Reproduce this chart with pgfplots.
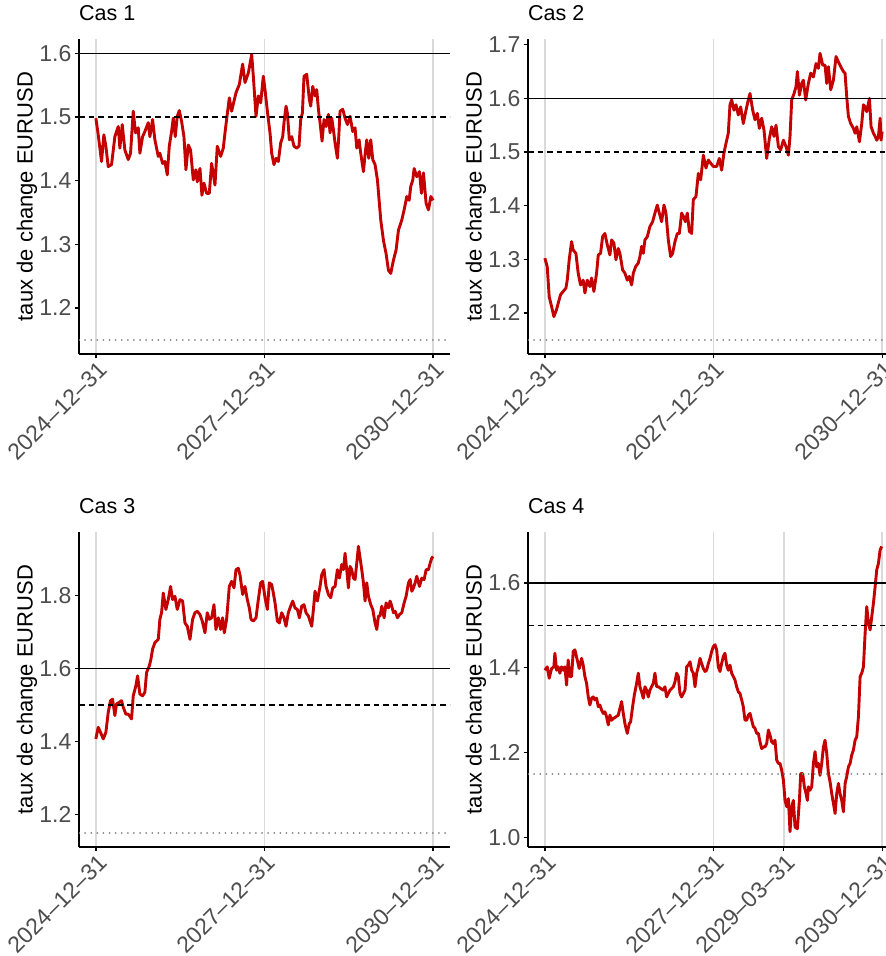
\documentclass[border=0pt]{standalone}
\usepackage{pgfplots}
\usepackage{pgfplotstable}
\pgfplotsset{compat=1.18}
\usepackage{fontspec}
\setmainfont{Liberation Sans}

\definecolor{serie}{HTML}{C40000}
\definecolor{grille}{HTML}{DADADA}
\definecolor{gristick}{HTML}{4D4D4D}
\definecolor{pointille}{HTML}{858585}

% x: years elapsed since 2024-12-31
\pgfplotstableread{
x y
0.000 1.498
0.042 1.472
0.101 1.430
0.142 1.472
0.178 1.454
0.220 1.422
0.279 1.425
0.338 1.469
0.398 1.485
0.427 1.451
0.469 1.488
0.516 1.448
0.576 1.433
0.617 1.443
0.665 1.509
0.706 1.475
0.754 1.483
0.783 1.443
0.831 1.469
0.872 1.477
0.932 1.491
0.961 1.469
1.009 1.496
1.050 1.464
1.110 1.438
1.139 1.443
1.187 1.427
1.228 1.430
1.270 1.409
1.306 1.454
1.347 1.477
1.377 1.498
1.412 1.469
1.448 1.501
1.484 1.510
1.525 1.493
1.567 1.469
1.602 1.417
1.644 1.456
1.685 1.448
1.733 1.401
1.780 1.417
1.804 1.398
1.852 1.419
1.887 1.377
1.923 1.396
1.970 1.380
2.018 1.380
2.059 1.427
2.119 1.393
2.160 1.454
2.220 1.438
2.267 1.451
2.297 1.475
2.326 1.496
2.374 1.530
2.415 1.509
2.493 1.538
2.552 1.551
2.611 1.583
2.653 1.554
2.712 1.569
2.772 1.598
2.801 1.564
2.849 1.501
2.890 1.533
2.932 1.522
2.979 1.564
3.009 1.543
3.051 1.509
3.098 1.475
3.128 1.443
3.169 1.425
3.205 1.435
3.246 1.430
3.288 1.459
3.324 1.469
3.347 1.491
3.383 1.517
3.407 1.506
3.442 1.464
3.484 1.469
3.525 1.454
3.573 1.451
3.614 1.454
3.644 1.496
3.674 1.506
3.703 1.564
3.751 1.567
3.798 1.527
3.822 1.517
3.858 1.548
3.899 1.533
3.929 1.543
3.959 1.512
3.988 1.491
4.024 1.462
4.059 1.496
4.095 1.485
4.137 1.504
4.166 1.475
4.196 1.498
4.226 1.480
4.255 1.459
4.297 1.435
4.321 1.469
4.344 1.509
4.392 1.512
4.433 1.498
4.475 1.488
4.522 1.501
4.570 1.477
4.611 1.483
4.641 1.451
4.683 1.464
4.712 1.443
4.760 1.414
4.789 1.441
4.819 1.464
4.855 1.435
4.890 1.464
4.926 1.433
4.967 1.425
5.009 1.401
5.068 1.338
5.116 1.306
5.163 1.285
5.205 1.259
5.246 1.254
5.294 1.275
5.341 1.291
5.383 1.322
5.442 1.338
5.484 1.354
5.531 1.375
5.573 1.369
5.602 1.391
5.638 1.401
5.662 1.419
5.709 1.406
5.757 1.414
5.792 1.380
5.828 1.412
5.875 1.364
5.917 1.354
5.959 1.375
6.000 1.369
}\casun

\pgfplotstableread{
x y
0.000 1.302
0.042 1.286
0.077 1.230
0.119 1.212
0.160 1.193
0.208 1.206
0.237 1.218
0.279 1.234
0.326 1.240
0.374 1.246
0.398 1.261
0.433 1.299
0.475 1.333
0.504 1.317
0.552 1.311
0.593 1.274
0.635 1.252
0.682 1.261
0.712 1.237
0.754 1.261
0.801 1.249
0.831 1.265
0.872 1.240
0.920 1.274
0.950 1.308
0.991 1.311
1.027 1.342
1.068 1.348
1.110 1.327
1.157 1.308
1.187 1.336
1.228 1.330
1.264 1.299
1.306 1.320
1.335 1.311
1.383 1.280
1.424 1.274
1.466 1.261
1.501 1.268
1.543 1.252
1.573 1.274
1.614 1.286
1.662 1.293
1.691 1.305
1.721 1.324
1.751 1.311
1.780 1.336
1.822 1.342
1.869 1.361
1.917 1.370
1.958 1.386
2.000 1.401
2.036 1.386
2.077 1.370
2.119 1.401
2.154 1.386
2.196 1.336
2.237 1.305
2.273 1.311
2.315 1.333
2.356 1.348
2.392 1.348
2.433 1.386
2.463 1.380
2.499 1.370
2.534 1.386
2.570 1.352
2.611 1.348
2.641 1.411
2.688 1.417
2.730 1.460
2.772 1.448
2.819 1.494
2.866 1.470
2.908 1.485
2.950 1.479
2.997 1.473
3.056 1.473
3.103 1.488
3.145 1.466
3.186 1.498
3.222 1.516
3.263 1.535
3.293 1.588
3.323 1.597
3.364 1.578
3.400 1.588
3.441 1.569
3.483 1.584
3.530 1.553
3.578 1.578
3.619 1.597
3.649 1.609
3.697 1.578
3.738 1.560
3.780 1.572
3.815 1.544
3.857 1.563
3.898 1.541
3.946 1.488
3.993 1.525
4.035 1.547
4.076 1.529
4.112 1.550
4.154 1.510
4.195 1.504
4.243 1.522
4.290 1.510
4.332 1.494
4.361 1.529
4.391 1.597
4.433 1.609
4.468 1.622
4.492 1.650
4.528 1.606
4.569 1.628
4.599 1.634
4.640 1.597
4.688 1.628
4.729 1.647
4.777 1.640
4.824 1.665
4.866 1.656
4.895 1.684
4.943 1.662
4.984 1.662
5.014 1.628
5.044 1.659
5.085 1.616
5.133 1.634
5.180 1.678
5.222 1.668
5.263 1.659
5.311 1.650
5.340 1.647
5.370 1.603
5.400 1.566
5.441 1.553
5.489 1.544
5.519 1.535
5.548 1.547
5.596 1.519
5.637 1.553
5.667 1.588
5.697 1.584
5.726 1.575
5.774 1.600
5.803 1.547
5.845 1.535
5.875 1.529
5.905 1.522
5.934 1.529
5.964 1.563
5.980 1.522
6.000 1.538
}\casdeux

\pgfplotstableread{
x y
0.000 1.407
0.042 1.439
0.083 1.425
0.131 1.407
0.178 1.425
0.220 1.480
0.261 1.512
0.297 1.516
0.338 1.471
0.368 1.503
0.415 1.507
0.457 1.512
0.487 1.494
0.534 1.475
0.576 1.475
0.635 1.462
0.665 1.525
0.712 1.553
0.742 1.580
0.783 1.530
0.831 1.525
0.872 1.535
0.902 1.589
0.950 1.607
0.979 1.625
1.009 1.653
1.050 1.671
1.110 1.680
1.139 1.735
1.169 1.753
1.199 1.807
1.246 1.762
1.288 1.789
1.329 1.825
1.365 1.789
1.407 1.798
1.448 1.762
1.496 1.789
1.543 1.785
1.585 1.725
1.626 1.716
1.674 1.680
1.721 1.735
1.763 1.753
1.804 1.757
1.852 1.748
1.893 1.730
1.941 1.698
1.982 1.753
2.018 1.735
2.059 1.739
2.101 1.775
2.136 1.707
2.178 1.739
2.220 1.707
2.255 1.739
2.285 1.698
2.326 1.735
2.374 1.825
2.415 1.839
2.457 1.821
2.493 1.871
2.534 1.875
2.564 1.857
2.611 1.803
2.653 1.825
2.694 1.789
2.730 1.766
2.760 1.735
2.801 1.730
2.849 1.739
2.890 1.789
2.932 1.835
2.967 1.839
3.009 1.794
3.051 1.762
3.086 1.835
3.128 1.830
3.157 1.807
3.187 1.780
3.229 1.730
3.264 1.725
3.306 1.753
3.347 1.739
3.383 1.716
3.424 1.753
3.466 1.771
3.502 1.785
3.543 1.766
3.585 1.762
3.620 1.739
3.662 1.771
3.703 1.775
3.739 1.753
3.781 1.744
3.810 1.730
3.840 1.716
3.870 1.762
3.899 1.812
3.941 1.785
3.988 1.825
4.018 1.857
4.059 1.871
4.095 1.825
4.137 1.803
4.178 1.794
4.214 1.821
4.255 1.825
4.297 1.871
4.332 1.848
4.374 1.885
4.404 1.871
4.433 1.916
4.463 1.871
4.493 1.821
4.522 1.880
4.552 1.871
4.582 1.848
4.611 1.844
4.641 1.889
4.671 1.935
4.700 1.903
4.730 1.871
4.760 1.835
4.789 1.785
4.819 1.835
4.849 1.798
4.890 1.775
4.926 1.762
4.967 1.725
4.997 1.707
5.027 1.744
5.056 1.744
5.086 1.771
5.128 1.739
5.163 1.780
5.205 1.766
5.234 1.785
5.264 1.771
5.294 1.753
5.324 1.757
5.365 1.739
5.401 1.748
5.442 1.753
5.484 1.780
5.519 1.798
5.561 1.835
5.591 1.844
5.620 1.812
5.650 1.821
5.680 1.835
5.709 1.853
5.757 1.825
5.798 1.848
5.840 1.844
5.875 1.871
5.917 1.871
5.947 1.889
5.976 1.903
6.000 1.907
}\castrois

\pgfplotstableread{
x y
0.000 1.394
0.042 1.402
0.077 1.375
0.119 1.398
0.160 1.402
0.178 1.434
0.208 1.394
0.237 1.402
0.267 1.387
0.297 1.402
0.326 1.394
0.356 1.402
0.386 1.359
0.415 1.418
0.445 1.379
0.475 1.379
0.504 1.438
0.534 1.442
0.576 1.418
0.611 1.398
0.653 1.422
0.682 1.406
0.712 1.379
0.742 1.363
0.772 1.331
0.801 1.312
0.831 1.328
0.861 1.331
0.890 1.324
0.920 1.328
0.950 1.308
0.979 1.312
1.009 1.300
1.039 1.292
1.068 1.296
1.098 1.284
1.128 1.265
1.157 1.288
1.187 1.276
1.217 1.280
1.264 1.284
1.306 1.288
1.335 1.304
1.365 1.320
1.395 1.292
1.424 1.268
1.466 1.245
1.501 1.268
1.525 1.272
1.561 1.308
1.591 1.335
1.632 1.363
1.662 1.387
1.691 1.355
1.721 1.343
1.751 1.328
1.780 1.355
1.810 1.347
1.840 1.331
1.869 1.347
1.899 1.355
1.929 1.363
1.958 1.387
1.988 1.355
2.018 1.355
2.059 1.351
2.107 1.347
2.136 1.355
2.166 1.331
2.196 1.339
2.226 1.347
2.255 1.351
2.285 1.355
2.315 1.367
2.344 1.387
2.374 1.379
2.404 1.339
2.433 1.331
2.463 1.339
2.493 1.347
2.522 1.402
2.552 1.406
2.582 1.414
2.611 1.394
2.641 1.387
2.671 1.355
2.700 1.387
2.730 1.402
2.760 1.422
2.789 1.410
2.819 1.398
2.849 1.391
2.878 1.394
2.908 1.410
2.938 1.422
2.967 1.438
2.997 1.450
3.027 1.454
3.056 1.442
3.085 1.402
3.115 1.391
3.145 1.410
3.174 1.426
3.204 1.434
3.234 1.406
3.263 1.394
3.293 1.406
3.323 1.387
3.352 1.379
3.382 1.371
3.412 1.355
3.441 1.343
3.471 1.339
3.501 1.324
3.530 1.308
3.560 1.276
3.590 1.276
3.619 1.288
3.649 1.292
3.679 1.276
3.708 1.261
3.738 1.257
3.768 1.245
3.798 1.245
3.827 1.225
3.857 1.209
3.887 1.213
3.916 1.213
3.946 1.221
3.976 1.253
4.005 1.241
4.035 1.225
4.065 1.221
4.094 1.229
4.124 1.182
4.154 1.174
4.183 1.174
4.213 1.158
4.243 1.135
4.272 1.087
4.302 1.072
4.332 1.091
4.361 1.013
4.391 1.072
4.421 1.087
4.450 1.024
4.492 1.020
4.528 1.087
4.551 1.150
4.587 1.150
4.616 1.119
4.646 1.103
4.670 1.087
4.688 1.119
4.717 1.111
4.747 1.119
4.777 1.174
4.806 1.202
4.836 1.166
4.866 1.174
4.895 1.146
4.925 1.174
4.955 1.213
4.984 1.229
5.014 1.198
5.044 1.150
5.073 1.131
5.103 1.103
5.133 1.080
5.163 1.056
5.192 1.103
5.222 1.127
5.251 1.103
5.281 1.087
5.311 1.060
5.341 1.127
5.370 1.143
5.400 1.166
5.430 1.174
5.459 1.194
5.489 1.206
5.519 1.229
5.548 1.237
5.578 1.284
5.608 1.379
5.637 1.387
5.667 1.402
5.697 1.481
5.726 1.544
5.756 1.505
5.786 1.489
5.815 1.520
5.845 1.552
5.875 1.591
5.904 1.631
5.934 1.646
5.964 1.678
5.993 1.686
}\casquatre

\pgfplotsset{
  panneau/.style={
    scale only axis, width=371bp, height=315bp,
    xmin=-0.3, xmax=6.3,
    axis x line*=bottom, axis y line*=left,
    axis line style={-, line width=1.3bp, black},
    tick align=outside, major tick length=4.5bp,
    tick style={line width=1.3bp, black},
    xtick={0,3,6},
    xticklabels={2024–12–31,2027–12–31,2030–12–31},
    xmajorgrids=true,
    grid style={color=grille, line width=1.5bp},
    /pgf/number format/assume math mode=true,
    ticklabel style={font=\fontsize{23bp}{26bp}\selectfont, color=gristick},
    yticklabel style={inner sep=0pt, xshift=-3bp,
      /pgf/number format/.cd, fixed, fixed zerofill, precision=1},
    xticklabel style={rotate=45, anchor=north east, inner sep=0pt, yshift=-1.5bp},
    ylabel={taux de change EURUSD},
    ylabel style={font=\fontsize{22bp}{26bp}\selectfont, inner sep=0pt,
      at={([xshift=-41.5bp]axis description cs:0,0.5)}, anchor=south},
    title style={font=\fontsize{21.5bp}{24bp}\selectfont, inner sep=0pt,
      at={([yshift=13bp]axis description cs:0,1)}, anchor=base west},
  },
  serieline/.style={color=serie, line width=2.9bp, line join=round},
  seuilhaut/.style={black, line width=1.5bp},
  seuilmilieu/.style={black, line width=1.5bp, dash pattern=on 5.5bp off 4bp},
  seuilbas/.style={pointille, line width=1.8bp, line cap=round,
    dash pattern=on 0.1bp off 6bp},
}

\begin{document}
\begin{tikzpicture}[x=1bp, y=1bp]

% Cas 1
\begin{axis}[panneau, at={(79bp,602bp)}, anchor=south west,
  title={Cas 1}, ymin=1.1275, ymax=1.6225, ytick={1.2,1.3,1.4,1.5,1.6}]
  \addplot[serieline] table[x=x, y=y] {\casun};
  \addplot[seuilhaut] coordinates {(-0.3,1.6) (6.3,1.6)};
  \addplot[seuilmilieu] coordinates {(-0.3,1.5) (6.3,1.5)};
  \addplot[seuilbas] coordinates {(-0.3,1.15) (6.3,1.15)};
\end{axis}

% Cas 2
\begin{axis}[panneau, at={(528bp,602bp)}, anchor=south west,
  title={Cas 2}, ymin=1.1233, ymax=1.7107, ytick={1.2,1.3,1.4,1.5,1.6,1.7}]
  \addplot[serieline] table[x=x, y=y] {\casdeux};
  \addplot[seuilhaut] coordinates {(-0.3,1.6) (6.3,1.6)};
  \addplot[seuilmilieu] coordinates {(-0.3,1.5) (6.3,1.5)};
  \addplot[seuilbas] coordinates {(-0.3,1.15) (6.3,1.15)};
\end{axis}

% Cas 3
\begin{axis}[panneau, at={(79bp,109bp)}, anchor=south west,
  title={Cas 3}, ymin=1.1108, ymax=1.9743, ytick={1.2,1.4,1.6,1.8}]
  \addplot[serieline] table[x=x, y=y] {\castrois};
  \addplot[seuilhaut] coordinates {(-0.3,1.6) (6.3,1.6)};
  \addplot[seuilmilieu] coordinates {(-0.3,1.5) (6.3,1.5)};
  \addplot[seuilbas] coordinates {(-0.3,1.15) (6.3,1.15)};
\end{axis}

% Cas 4
\begin{axis}[panneau, at={(528bp,109bp)}, anchor=south west,
  title={Cas 4}, ymin=0.977, ymax=1.720, ytick={1.0,1.2,1.4,1.6},
  xtick={0,3,4.25,6},
  xticklabels={2024–12–31,2027–12–31,2029–03–31,2030–12–31}]
  \addplot[serieline] table[x=x, y=y] {\casquatre};
  \addplot[seuilhaut] coordinates {(-0.3,1.6) (6.3,1.6)};
  \addplot[seuilmilieu] coordinates {(-0.3,1.5) (6.3,1.5)};
  \addplot[seuilbas] coordinates {(-0.3,1.15) (6.3,1.15)};
\end{axis}

\pgfresetboundingbox
\useasboundingbox (0,0) rectangle (886,956);
\end{tikzpicture}
\end{document}
